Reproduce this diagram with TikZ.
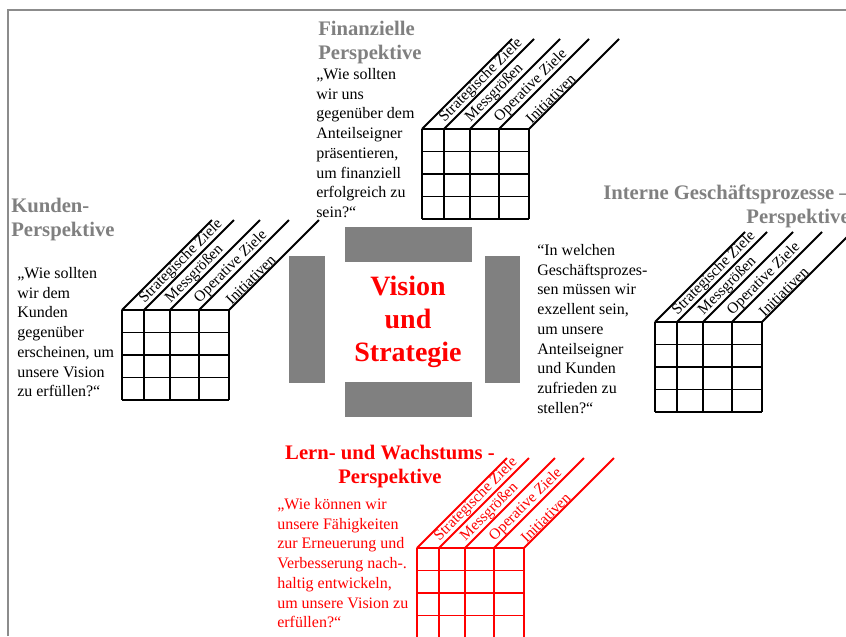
\documentclass[tikz,border=0pt]{standalone}
\usepackage{fontspec}
\setmainfont{Liberation Serif}
\definecolor{headgray}{HTML}{808080}
\definecolor{blockgray}{HTML}{808080}
\definecolor{framegray}{HTML}{8C8C8C}
\definecolor{bscred}{HTML}{FF0000}

\tikzset{
  gridline/.style={line width=1pt},
  diagline/.style={line width=1.4pt},
  axislabel/.style={rotate=45,anchor=south west,inner sep=0.6pt,
    font=\fontsize{11.5pt}{14pt}\selectfont},
  heading/.style={inner sep=0pt,font=\bfseries\fontsize{15.5pt}{18pt}\selectfont},
  question/.style={inner sep=0pt,align=left,anchor=north west,
    font=\fontsize{12pt}{14.8pt}\selectfont},
  vision/.style={inner sep=0pt,align=center,bscred,
    font=\bfseries\fontsize{21pt}{25pt}\selectfont},
  pics/scorecard/.style={code={
    \foreach \col in {0,22,48,77,107} {
      \draw[gridline] (\col,0) -- (\col,90);
      \draw[diagline] (\col,0) -- ++(90,-90);
    }
    \foreach \row in {0,22.5,45,67.5,90}
      \draw[gridline] (0,\row) -- (107,\row);
    \node[axislabel] (-strat) at (25,-3) {Strategische Ziele};
    \node[axislabel] (-mess) at (51,-3) {Messgrößen};
    \node[axislabel] (-oper) at (80,-3) {Operative Ziele};
    \node[axislabel] (-init) at (110,-3) {Initiativen};
  }}
}

\begin{document}
\begin{tikzpicture}[x=0.75pt,y=-0.75pt]
\useasboundingbox (0,0) rectangle (846,636);
\draw[framegray,line width=1.5pt] (8,636) -- (8,10) -- (846,10);

% Vision und Strategie
\fill[blockgray] (345,227) rectangle (472,262);
\fill[blockgray] (345,382) rectangle (472,417);
\fill[blockgray] (289,256) rectangle (325,383);
\fill[blockgray] (485,256) rectangle (520,383);
\node[vision] (vision) at (408,322) {Vision\\und\\Strategie};

% Finanzielle Perspektive
\node[heading,headgray,align=left,anchor=north west] (finhead) at (318,21)
  {Finanzielle\\Perspektive};
\node[question] (finq) at (316,68) {„Wie sollten\\wir uns\\gegenüber dem\\Anteilseigner\\präsentieren,\\um finanziell\\erfolgreich zu\\sein?“};
\pic (fin) at (422,129) {scorecard};

% Kunden-Perspektive
\node[heading,headgray,align=left,anchor=north west] (kundhead) at (11,198)
  {Kunden-\\Perspektive};
\node[question] (kundq) at (17,267) {„Wie sollten\\wir dem\\Kunden\\gegenüber\\erscheinen, um\\unsere Vision\\zu erfüllen?“};
\pic (kund) at (122,310) {scorecard};

% Interne Geschaeftsprozesse
\node[heading,headgray,align=right,anchor=north east] (inthead) at (850,185)
  {Interne Geschäftsprozesse –\\Perspektive};
\node[question] (intq) at (537,244) {“In welchen\\Geschäftsprozes-\\sen müssen wir\\exzellent sein,\\um unsere\\Anteilseigner\\und Kunden\\zufrieden zu\\stellen?“};
\pic (int) at (655,322) {scorecard};

% Lern- und Wachstumsperspektive
\node[heading,bscred,align=center,anchor=north] (lernhead) at (390,445)
  {Lern- und Wachstums -\\Perspektive};
\node[question,bscred] (lernq) at (277,498) {„Wie können wir\\unsere Fähigkeiten\\zur Erneuerung und\\Verbesserung nach-.\\haltig entwickeln,\\um unsere Vision zu\\erfüllen?“};
\pic[bscred] (lern) at (417,548) {scorecard};
\end{tikzpicture}
\end{document}
